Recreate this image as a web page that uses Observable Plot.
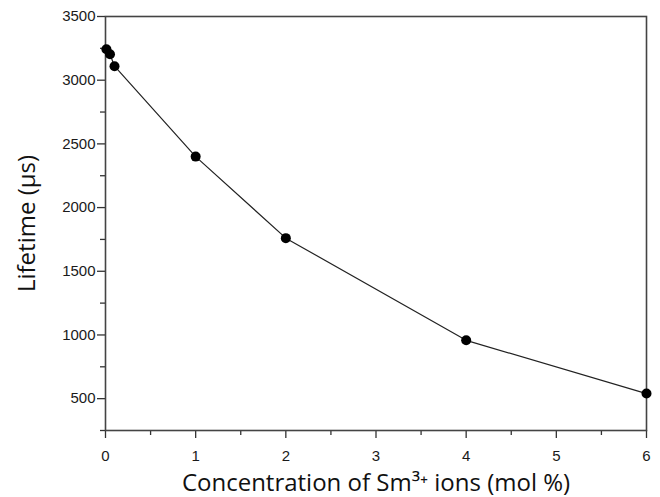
<!DOCTYPE html>
<html>
<head>
<meta charset="utf-8">
<script src="https://cdn.jsdelivr.net/npm/d3@7"></script>
<script src="https://cdn.jsdelivr.net/npm/@observablehq/plot@0.6"></script>
<style>
  html, body { margin: 0; padding: 0; background: #fff; }
</style>
</head>
<body>
<div id="chart"></div>
<script>
const concentration = [0.01, 0.05, 0.1, 1, 2, 4, 6];
const lifetime = [3243, 3203, 3110, 2400, 1760, 958, 540];
const yTicks = [500, 1000, 1500, 2000, 2500, 3000, 3500];
const yMinor = [250, 750, 1250, 1750, 2250, 2750, 3250];
const xTicks = [0, 1, 2, 3, 4, 5, 6];
const xMinor = [0.5, 1.5, 2.5, 3.5, 4.5, 5.5];
const xLabel = "Concentration of Sm³⁺ ions (mol %)";
const yLabel = "Lifetime (μs)";

const data = concentration.map((c, i) => ({c, t: lifetime[i]}));

const chart = Plot.plot({
  width: 660,
  height: 497,
  marginLeft: 105,
  marginRight: 14,
  marginTop: 16,
  marginBottom: 67,
  x: {domain: [0, 6]},
  y: {domain: [250, 3500]},
  style: {background: "#fff", fontFamily: "Liberation Sans, Arial, sans-serif", fontSize: "15px", color: "#1a1a1a"},
  marks: [
    Plot.axisY(yTicks, {anchor: "left", tickSize: 8, tickPadding: 2, tickFormat: d => String(d), fontSize: 15, fill: "#1a1a1a", stroke: "#333", strokeWidth: 1.3, label: null}),
    Plot.axisY(yMinor, {anchor: "left", tickSize: 5, text: null, stroke: "#333", strokeWidth: 1.3, label: null}),
    Plot.axisX(xTicks, {anchor: "bottom", tickSize: 8, tickPadding: 12, tickFormat: d => String(d), fontSize: 15, fill: "#1a1a1a", stroke: "#333", strokeWidth: 1.3, label: null}),
    Plot.axisX(xMinor, {anchor: "bottom", tickSize: 5, text: null, stroke: "#333", strokeWidth: 1.3, label: null}),
    Plot.frame({stroke: "#444", strokeWidth: 1.6}),
    Plot.line(data, {x: "c", y: "t", stroke: "#222", strokeWidth: 1.2}),
    Plot.dot(data, {x: "c", y: "t", r: 5, fill: "#000", stroke: "none"}),
    Plot.text([yLabel], {frameAnchor: "left", dx: -78, rotate: -90, textAnchor: "middle", lineAnchor: "middle", text: d => d, fontSize: 24, fontFamily: "Open Sans, Noto Sans, sans-serif", fill: "#111"}),
    Plot.text([xLabel], {frameAnchor: "bottom", dy: 53, lineAnchor: "middle", text: d => d, fontSize: 24, fontFamily: "Open Sans, Noto Sans, sans-serif", fill: "#111"})
  ]
});
document.getElementById("chart").appendChild(chart);
</script>
</body>
</html>
